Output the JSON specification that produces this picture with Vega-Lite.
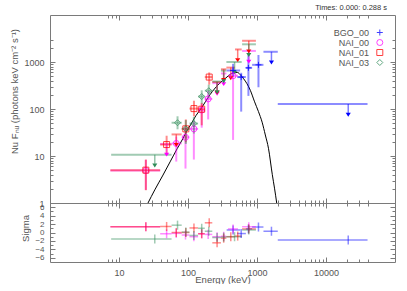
{
  "$schema": "https://vega.github.io/schema/vega-lite/v6.json",
  "padding": {"left": 9, "top": 3, "right": 0, "bottom": 0},
  "background": "white",
  "bounds": "flush",
  "spacing": 0,
  "resolve": {"scale": {"color": "independent", "shape": "independent"}},
  "datasets": {
    "pts": [
      {"det":"BGO_00","e":450,"elo":363,"ehi":570,"f":660,"flo":484,"fhi":915,"ul":false,"sig":0.6},
      {"det":"BGO_00","e":590,"elo":515,"ehi":690,"f":478,"flo":88,"fhi":590,"ul":false,"sig":-0.25},
      {"det":"BGO_00","e":751,"elo":690,"ehi":850,"f":751,"flo":190,"fhi":1400,"ul":false,"sig":0.85},
      {"det":"BGO_00","e":1050,"elo":850,"ehi":1240,"f":870,"flo":290,"fhi":1410,"ul":false,"sig":1.3},
      {"det":"BGO_00","e":1620,"elo":1240,"ehi":2000,"f":1650,"ul":true,"sig":0.3},
      {"det":"BGO_00","e":21000,"elo":2000,"ehi":40000,"f":127,"ul":true,"sig":-1.8},
      {"det":"NAI_00","e":24.5,"elo":7.5,"ehi":39.5,"f":4.9,"flo":1.9,"fhi":8.3,"ul":false,"sig":1.37},
      {"det":"NAI_00","e":49,"elo":39.5,"ehi":57.8,"f":18,"ul":true,"sig":-0.3},
      {"det":"NAI_00","e":67.6,"elo":57.8,"ehi":81,"f":18.5,"flo":7.6,"fhi":26,"ul":false,"sig":-0.2},
      {"det":"NAI_00","e":92,"elo":81,"ehi":105,"f":25,"flo":5.4,"fhi":40,"ul":false,"sig":-0.6},
      {"det":"NAI_00","e":121.6,"elo":105,"ehi":140,"f":37.8,"flo":8.4,"fhi":55,"ul":false,"sig":-1.0},
      {"det":"NAI_00","e":158,"elo":140,"ehi":175,"f":95,"flo":40,"fhi":130,"ul":false,"sig":-0.3},
      {"det":"NAI_00","e":196,"elo":175,"ehi":225,"f":164,"flo":60,"fhi":240,"ul":false,"sig":-0.45},
      {"det":"NAI_00","e":264,"elo":225,"ehi":300,"f":355,"ul":true,"sig":-1.0},
      {"det":"NAI_00","e":329,"elo":300,"ehi":360,"f":570,"ul":true,"sig":-0.9},
      {"det":"NAI_00","e":450,"elo":380,"ehi":530,"f":510,"flo":22,"fhi":650,"ul":false,"sig":0.85},
      {"det":"NAI_00","e":760,"elo":608,"ehi":964,"f":1720,"ul":true,"sig":1.37},
      {"det":"NAI_01","e":24.5,"elo":7.5,"ehi":39.5,"f":5.0,"flo":1.87,"fhi":8.4,"ul":false,"sig":1.37},
      {"det":"NAI_01","e":49,"elo":39.5,"ehi":57.8,"f":17.5,"flo":10.5,"fhi":27,"ul":false,"sig":1.43},
      {"det":"NAI_01","e":67.6,"elo":57.8,"ehi":81,"f":28.8,"ul":true,"sig":0.0},
      {"det":"NAI_01","e":93,"elo":81,"ehi":105,"f":37.8,"flo":19.5,"fhi":60,"ul":false,"sig":0.0},
      {"det":"NAI_01","e":122,"elo":105,"ehi":140,"f":102,"flo":70,"fhi":150,"ul":false,"sig":1.08},
      {"det":"NAI_01","e":158,"elo":140,"ehi":175,"f":99,"flo":45,"fhi":135,"ul":false,"sig":-0.3},
      {"det":"NAI_01","e":203,"elo":175,"ehi":225,"f":478,"flo":330,"fhi":600,"ul":false,"sig":2.3},
      {"det":"NAI_01","e":264,"elo":225,"ehi":300,"f":375,"ul":true,"sig":-2.45},
      {"det":"NAI_01","e":329,"elo":300,"ehi":360,"f":700,"ul":true,"sig":-1.35},
      {"det":"NAI_01","e":417,"elo":360,"ehi":480,"f":760,"ul":true,"sig":-1.0},
      {"det":"NAI_01","e":525,"elo":480,"ehi":600,"f":1850,"ul":true,"sig":-0.85},
      {"det":"NAI_01","e":760,"elo":608,"ehi":964,"f":2830,"ul":true,"sig":0.85},
      {"det":"NAI_03","e":33,"elo":7.7,"ehi":57.8,"f":10.6,"ul":true,"sig":-1.56},
      {"det":"NAI_03","e":70.5,"elo":57.8,"ehi":81,"f":51,"flo":37,"fhi":70,"ul":false,"sig":1.74},
      {"det":"NAI_03","e":93,"elo":81,"ehi":105,"f":38,"flo":18,"fhi":58,"ul":false,"sig":0.1},
      {"det":"NAI_03","e":121.6,"elo":105,"ehi":140,"f":49,"flo":30,"fhi":68,"ul":false,"sig":-0.7},
      {"det":"NAI_03","e":158,"elo":140,"ehi":175,"f":184,"flo":130,"fhi":250,"ul":false,"sig":1.0},
      {"det":"NAI_03","e":200,"elo":175,"ehi":225,"f":245,"flo":170,"fhi":330,"ul":false,"sig":0.3},
      {"det":"NAI_03","e":264,"elo":225,"ehi":300,"f":385,"ul":true,"sig":-1.2},
      {"det":"NAI_03","e":329,"elo":300,"ehi":360,"f":655,"ul":true,"sig":-1.1},
      {"det":"NAI_03","e":473,"elo":360,"ehi":600,"f":1000,"ul":true,"sig":-1.0},
      {"det":"NAI_03","e":760,"elo":608,"ehi":964,"f":2380,"ul":true,"sig":0.6}
    ],
    "model": [
      {"e":26.3,"f":1.0},{"e":33,"f":1.9},{"e":42.7,"f":3.76},{"e":55,"f":7.5},{"e":70,"f":14.5},
      {"e":85,"f":24},{"e":96,"f":34},{"e":109,"f":46},{"e":130,"f":72},{"e":158,"f":107},
      {"e":180,"f":145},{"e":210,"f":205},{"e":241,"f":266},{"e":280,"f":340},{"e":325,"f":413},
      {"e":380,"f":500},{"e":430,"f":570},{"e":473,"f":600},{"e":520,"f":600},{"e":583,"f":520},
      {"e":640,"f":440},{"e":716,"f":345},{"e":800,"f":250},{"e":923,"f":142},{"e":1050,"f":88},
      {"e":1186,"f":52.5},{"e":1320,"f":28},{"e":1466,"f":14.6},{"e":1667,"f":4.0},{"e":1800,"f":2.0},{"e":1930,"f":1.0}
    ]
  },
  "vconcat": [
    {
      "width": 345,
      "height": 188,
      "title": {"text": "Times: 0.000: 0.288 s", "anchor": "end", "frame": "group", "dx": -8, "offset": 3, "fontSize": 7.5, "fontWeight": "normal", "color": "#333", "font": "Liberation Sans"},
      "resolve": {"axis": {"x": "independent", "y": "independent"}, "scale": {"color": "independent", "shape": "independent"}},
      "layer": [
        {
          "data": {"name": "model"},
          "mark": {"type": "line", "color": "black", "strokeWidth": 1, "clip": true, "interpolate": "monotone"},
          "encoding": {
            "x": {"field": "e", "type": "quantitative", "scale": {"type": "log", "domain": [7, 40000]},
                  "axis": {"orient": "bottom", "values": [10, 100, 1000, 10000], "labels": false, "tickSize": -5, "title": null}},
            "y": {"field": "f", "type": "quantitative", "scale": {"type": "log", "domain": [1, 3000]},
                  "axis": {"orient": "left", "values": [1, 10, 100, 1000], "format": "d", "tickSize": -5, "labelPadding": 11, "labelFlush": false, "labelOverlap": false, "title": "Nu Fₙᵤ (photons keV cm⁻² s⁻¹)", "titleY": 76}}
          }
        },
        {
          "data": {"name": "pts"},
          "mark": {"type": "rule", "strokeWidth": 2, "opacity": 0.45, "clip": true},
          "encoding": {
            "x": {"field": "elo", "type": "quantitative",
                  "axis": {"orient": "bottom", "values": [7,8,9,20,30,40,50,60,70,80,90,200,300,400,500,600,700,800,900,2000,3000,4000,5000,6000,7000,8000,9000,20000,30000,40000], "labels": false, "tickSize": -3, "title": null}},
            "x2": {"field": "ehi"},
            "y": {"field": "f", "type": "quantitative",
                  "axis": {"orient": "left", "values": [2,3,4,5,6,7,8,9,20,30,40,50,60,70,80,90,200,300,400,500,600,700,800,900,2000,3000], "labels": false, "tickSize": -3, "title": null}},
            "color": {"field": "det", "type": "nominal", "legend": null, "scale": {"domain": ["BGO_00","NAI_00","NAI_01","NAI_03"], "range": ["#0000ff","#ff00ff","#ff0000","#2e8b57"]}}
          }
        },
        {
          "data": {"name": "pts"},
          "transform": [{"filter": "!datum.ul"}],
          "mark": {"type": "rule", "strokeWidth": 2, "opacity": 0.45, "clip": true},
          "encoding": {
            "x": {"field": "e", "type": "quantitative",
                  "axis": {"orient": "top", "values": [10, 100, 1000, 10000], "labels": false, "tickSize": -5, "title": null}},
            "y": {"field": "flo", "type": "quantitative",
                  "axis": {"orient": "right", "values": [1, 10, 100, 1000], "labels": false, "tickSize": -5, "title": null}},
            "y2": {"field": "fhi"},
            "color": {"field": "det", "type": "nominal", "legend": null, "scale": {"domain": ["BGO_00","NAI_00","NAI_01","NAI_03"], "range": ["#0000ff","#ff00ff","#ff0000","#2e8b57"]}}
          }
        },
        {
          "data": {"name": "pts"},
          "transform": [{"filter": "datum.ul"}],
          "mark": {"type": "point", "shape": "M0,0L0,3", "size": 36, "filled": false, "strokeWidth": 1.5, "opacity": 0.5},
          "encoding": {
            "x": {"field": "e", "type": "quantitative",
                  "axis": {"orient": "top", "values": [7,8,9,20,30,40,50,60,70,80,90,200,300,400,500,600,700,800,900,2000,3000,4000,5000,6000,7000,8000,9000,20000,30000,40000], "labels": false, "tickSize": -3, "title": null}},
            "y": {"field": "f", "type": "quantitative",
                  "axis": {"orient": "right", "values": [2,3,4,5,6,7,8,9,20,30,40,50,60,70,80,90,200,300,400,500,600,700,800,900,2000,3000], "labels": false, "tickSize": -3, "title": null}},
            "color": {"field": "det", "type": "nominal", "legend": null, "scale": {"domain": ["BGO_00","NAI_00","NAI_01","NAI_03"], "range": ["#0000ff","#ff00ff","#ff0000","#2e8b57"]}}
          }
        },
        {
          "data": {"name": "pts"},
          "transform": [{"filter": "datum.ul"}],
          "mark": {"type": "point", "shape": "M-0.85,2.9L0.85,2.9L0,4.2Z", "size": 36, "filled": true, "opacity": 1},
          "encoding": {
            "x": {"field": "e", "type": "quantitative", "axis": null},
            "y": {"field": "f", "type": "quantitative", "axis": null},
            "color": {"field": "det", "type": "nominal", "legend": null, "scale": {"domain": ["BGO_00","NAI_00","NAI_01","NAI_03"], "range": ["#0000ff","#ff00ff","#ff0000","#2e8b57"]}}
          }
        },
        {
          "data": {"name": "pts"},
          "transform": [{"filter": "!datum.ul"}],
          "mark": {"type": "point", "size": 36, "filled": false, "strokeWidth": 1, "opacity": 0.75},
          "encoding": {
            "x": {"field": "e", "type": "quantitative", "axis": null},
            "y": {"field": "f", "type": "quantitative", "axis": null},
            "color": {"field": "det", "type": "nominal",
                      "scale": {"domain": ["BGO_00","NAI_00","NAI_01","NAI_03"], "range": ["#0000ff","#ff00ff","#ff0000","#2e8b57"]},
                      "legend": {"orient": "none", "legendX": 339.7, "legendY": 13, "title": null, "labelAlign": "right", "labelOffset": -15.4, "symbolOffset": -14.4, "labelFontSize": 9, "labelColor": "#555", "labelFont": "Liberation Sans", "symbolSize": 36, "symbolStrokeWidth": 1, "symbolOpacity": 0.75, "rowPadding": -1, "padding": 0}},
            "shape": {"field": "det", "type": "nominal",
                      "scale": {"domain": ["BGO_00","NAI_00","NAI_01","NAI_03"], "range": ["M-1,0L1,0M0,-1L0,1", "circle", "square", "diamond"]},
                      "legend": {"orient": "none", "legendX": 339.7, "legendY": 13, "title": null, "labelAlign": "right", "labelOffset": -15.4, "symbolOffset": -14.4, "labelFontSize": 9, "labelColor": "#555", "labelFont": "Liberation Sans", "symbolSize": 36, "symbolStrokeWidth": 1, "symbolOpacity": 0.75, "rowPadding": -1, "padding": 0}}
          }
        }
      ]
    },
    {
      "width": 345,
      "height": 59,
      "resolve": {"axis": {"x": "independent", "y": "independent"}},
      "layer": [
        {
          "data": {"name": "pts"},
          "mark": {"type": "rule", "strokeWidth": 1.5, "opacity": 0.45, "clip": true},
          "encoding": {
            "x": {"field": "elo", "type": "quantitative", "scale": {"type": "log", "domain": [7, 40000]},
                  "axis": {"orient": "bottom", "values": [10, 100, 1000, 10000], "format": "d", "tickSize": -5, "labelPadding": 11, "labelFlush": false, "title": "Energy (keV)", "titlePadding": -3}},
            "x2": {"field": "ehi"},
            "y": {"field": "sig", "type": "quantitative", "scale": {"domain": [-6.5, 6.5]},
                  "axis": {"orient": "left", "values": [-6, -4, -2, 0, 2, 4, 6], "format": "d", "tickSize": -5, "labelPadding": 11, "labelFlush": false, "labelOverlap": false, "labelFontSize": 8, "title": "Sigma", "titleY": 25}},
            "color": {"field": "det", "type": "nominal", "legend": null, "scale": {"domain": ["BGO_00","NAI_00","NAI_01","NAI_03"], "range": ["#0000ff","#ff00ff","#ff0000","#2e8b57"]}}
          }
        },
        {
          "data": {"name": "pts"},
          "mark": {"type": "point", "shape": "M0,-1L0,1", "size": 82, "filled": false, "strokeWidth": 1.5, "opacity": 0.45},
          "encoding": {
            "x": {"field": "e", "type": "quantitative",
                  "axis": {"orient": "bottom", "values": [7,8,9,20,30,40,50,60,70,80,90,200,300,400,500,600,700,800,900,2000,3000,4000,5000,6000,7000,8000,9000,20000,30000,40000], "labels": false, "tickSize": -3, "title": null}},
            "y": {"field": "sig", "type": "quantitative",
                  "axis": {"orient": "left", "values": [-5, -3, -1, 1, 3, 5], "labels": false, "tickSize": -3, "title": null}},
            "color": {"field": "det", "type": "nominal", "legend": null}
          }
        },
        {
          "mark": {"type": "rule", "color": "black", "strokeWidth": 1, "strokeDash": [1, 2]},
          "encoding": {
            "x": {"datum": 7, "type": "quantitative",
                  "axis": {"orient": "top", "values": [10, 100, 1000, 10000], "labels": false, "tickSize": -5, "title": null}},
            "x2": {"datum": 40000},
            "y": {"datum": 0, "type": "quantitative",
                  "axis": {"orient": "right", "values": [-6, -4, -2, 0, 2, 4, 6], "labels": false, "tickSize": -5, "title": null}}
          }
        },
        {
          "data": {"name": "pts"},
          "mark": {"type": "point", "opacity": 0, "size": 1},
          "encoding": {
            "x": {"field": "e", "type": "quantitative",
                  "axis": {"orient": "top", "values": [7,8,9,20,30,40,50,60,70,80,90,200,300,400,500,600,700,800,900,2000,3000,4000,5000,6000,7000,8000,9000,20000,30000,40000], "labels": false, "tickSize": -3, "title": null}},
            "y": {"field": "sig", "type": "quantitative",
                  "axis": {"orient": "right", "values": [-5, -3, -1, 1, 3, 5], "labels": false, "tickSize": -3, "title": null}}
          }
        }
      ]
    }
  ],
  "config": {
    "font": "Liberation Sans",
    "view": {"stroke": "#7a7a7a", "strokeWidth": 1},
    "axis": {"domain": false, "grid": false, "tickColor": "#7a7a7a", "tickWidth": 1, "labelColor": "#555", "labelFont": "Liberation Sans", "labelFontSize": 9, "titleFont": "Liberation Sans", "titleFontSize": 9.5, "titleFontWeight": "normal", "titleColor": "#555", "titlePadding": 4}
  }
}
